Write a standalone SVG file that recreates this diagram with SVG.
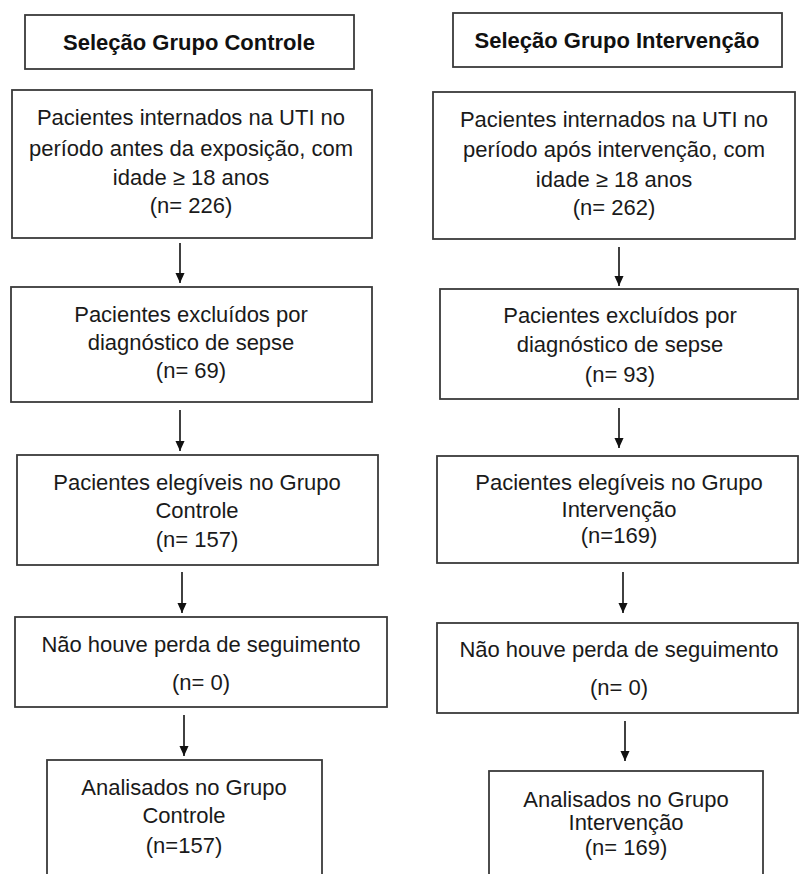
<svg xmlns="http://www.w3.org/2000/svg" width="799" height="874" viewBox="0 0 799 874">
<style>
  .box { fill: #ffffff; stroke: #3a3a3a; stroke-width: 1.8; }
  .hd { font-family: "Liberation Sans", Arial, sans-serif; font-weight: bold; font-size: 22px; fill: #111; text-anchor: middle; }
  .tx { font-family: "Liberation Sans", Arial, sans-serif; font-size: 22px; fill: #1a1a1a; text-anchor: middle; }
  .arrow { stroke: #111; stroke-width: 1.6; fill: none; marker-end: url(#ah); }
</style>
<defs>
  <marker id="ah" markerUnits="userSpaceOnUse" markerWidth="10" markerHeight="12" refX="11" refY="5" orient="auto" viewBox="0 0 11 10">
    <path d="M0,0 L11,5 L0,10 z" fill="#111"/>
  </marker>
</defs>
<rect width="799" height="874" fill="#ffffff"/>

<!-- Left column -->
<g id="hdr-controle">
  <rect class="box" x="25" y="15" width="329" height="54"/>
  <text class="hd" x="189" y="50">Seleção Grupo Controle</text>
</g>
<g id="c1">
  <rect class="box" x="12" y="90" width="360" height="148"/>
  <text class="tx" x="191" y="125">Pacientes internados na UTI no</text>
  <text class="tx" x="191" y="156">período antes da exposição, com</text>
  <text class="tx" x="191" y="185">idade ≥ 18 anos</text>
  <text class="tx" x="191" y="213">(n= 226)</text>
</g>
<g id="c2">
  <rect class="box" x="11" y="287" width="361" height="115"/>
  <text class="tx" x="191" y="322">Pacientes excluídos por</text>
  <text class="tx" x="191" y="350">diagnóstico de sepse</text>
  <text class="tx" x="191" y="378">(n= 69)</text>
</g>
<g id="c3">
  <rect class="box" x="17" y="455" width="361" height="110"/>
  <text class="tx" x="197" y="490">Pacientes elegíveis no Grupo</text>
  <text class="tx" x="197" y="518">Controle</text>
  <text class="tx" x="197" y="547">(n= 157)</text>
</g>
<g id="c4">
  <rect class="box" x="15" y="617" width="372" height="90"/>
  <text class="tx" x="201" y="652">Não houve perda de seguimento</text>
  <text class="tx" x="201" y="690">(n= 0)</text>
</g>
<g id="c5">
  <rect class="box" x="47" y="760" width="275" height="130"/>
  <text class="tx" x="184" y="795">Analisados no Grupo</text>
  <text class="tx" x="184" y="823">Controle</text>
  <text class="tx" x="184" y="853">(n=157)</text>
</g>

<!-- Right column -->
<g id="hdr-intervencao">
  <rect class="box" x="453" y="13" width="329" height="54"/>
  <text class="hd" x="617" y="48">Seleção Grupo Intervenção</text>
</g>
<g id="i1">
  <rect class="box" x="433" y="92" width="362" height="147"/>
  <text class="tx" x="614" y="127">Pacientes internados na UTI no</text>
  <text class="tx" x="614" y="157">período após intervenção, com</text>
  <text class="tx" x="614" y="187">idade ≥ 18 anos</text>
  <text class="tx" x="614" y="215">(n= 262)</text>
</g>
<g id="i2">
  <rect class="box" x="440" y="289" width="358" height="110"/>
  <text class="tx" x="620" y="323">Pacientes excluídos por</text>
  <text class="tx" x="620" y="352">diagnóstico de sepse</text>
  <text class="tx" x="620" y="382">(n= 93)</text>
</g>
<g id="i3">
  <rect class="box" x="437" y="456" width="361" height="107"/>
  <text class="tx" x="619" y="490">Pacientes elegíveis no Grupo</text>
  <text class="tx" x="619" y="517">Intervenção</text>
  <text class="tx" x="619" y="543">(n=169)</text>
</g>
<g id="i4">
  <rect class="box" x="437" y="623" width="361" height="90"/>
  <text class="tx" x="619" y="657">Não houve perda de seguimento</text>
  <text class="tx" x="619" y="695">(n= 0)</text>
</g>
<g id="i5">
  <rect class="box" x="489" y="771" width="274" height="120"/>
  <text class="tx" x="626" y="807">Analisados no Grupo</text>
  <text class="tx" x="626" y="830">Intervenção</text>
  <text class="tx" x="626" y="855">(n= 169)</text>
</g>

<g id="connectors">
  <line class="arrow" x1="180" y1="243" x2="180" y2="283"/>
  <line class="arrow" x1="180" y1="410" x2="180" y2="451"/>
  <line class="arrow" x1="182" y1="572" x2="182" y2="613"/>
  <line class="arrow" x1="184" y1="715" x2="184" y2="756"/>
  <line class="arrow" x1="619" y1="247" x2="619" y2="286"/>
  <line class="arrow" x1="619" y1="408" x2="619" y2="448"/>
  <line class="arrow" x1="623" y1="572" x2="623" y2="613"/>
  <line class="arrow" x1="625" y1="721" x2="625" y2="761"/>
</g>
</svg>
